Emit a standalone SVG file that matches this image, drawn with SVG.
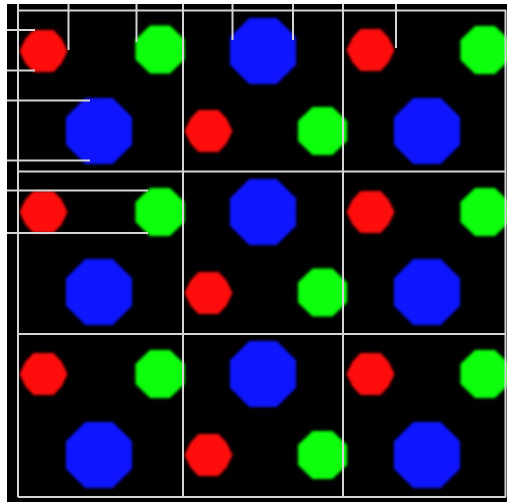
<svg xmlns="http://www.w3.org/2000/svg" width="507" height="504" viewBox="0 0 507 504">
  <style>
    .ln { stroke: #d4d4d4; stroke-width: 2; fill: none; }
    .red { fill: #ff0a0a; }
    .grn { fill: #0cff0c; }
    .blu { fill: #0a14ff; }
  </style>
  <defs>
    <filter id="soft" x="-20%" y="-20%" width="140%" height="140%">
      <feGaussianBlur stdDeviation="1.6"/>
    </filter>
    <polygon id="redHex" points="-24,0 -18,-12.5 -10,-21 10,-21 18,-12.5 24,0 18,12.5 10,21 -10,21 -18,12.5"/>
    <polygon id="grnOct" points="24.5,9.9 9.9,24 -9.9,24 -24.5,9.9 -24.5,-9.9 -9.9,-24 9.9,-24 24.5,-9.9"/>
    <polygon id="bluOct" points="33,13.7 13.7,33 -13.7,33 -33,13.7 -33,-13.7 -13.7,-33 13.7,-33 33,-13.7"/>
  </defs>
  <rect x="0" y="0" width="507" height="504" fill="#ffffff"/>
  <rect x="7" y="4" width="500" height="498" fill="#000000"/>

  <g id="shapes" filter="url(#soft)">
    <g id="rowA">
      <use id="r1" href="#redHex" class="red" x="43.5" y="51"/>
      <use id="g1" href="#grnOct" class="grn" x="160" y="49.5"/>
      <use id="b1" href="#bluOct" class="blu" x="263" y="51"/>
      <use id="r2" href="#redHex" class="red" x="370.5" y="50"/>
      <use id="g2" href="#grnOct" class="grn" x="485" y="50"/>
    </g>
    <g id="rowB">
      <use id="b2" href="#bluOct" class="blu" x="99" y="131"/>
      <use id="r3" href="#redHex" class="red" x="208.5" y="131"/>
      <use id="g3" href="#grnOct" class="grn" x="322.5" y="131"/>
      <use id="b3" href="#bluOct" class="blu" x="427" y="131"/>
    </g>
    <g id="rowC">
      <use id="r4" href="#redHex" class="red" x="43.5" y="212"/>
      <use id="g4" href="#grnOct" class="grn" x="160" y="212"/>
      <use id="b4" href="#bluOct" class="blu" x="263" y="212"/>
      <use id="r5" href="#redHex" class="red" x="370.5" y="212"/>
      <use id="g5" href="#grnOct" class="grn" x="485" y="212"/>
    </g>
    <g id="rowD">
      <use id="b5" href="#bluOct" class="blu" x="99" y="292"/>
      <use id="r6" href="#redHex" class="red" x="208.5" y="293"/>
      <use id="g6" href="#grnOct" class="grn" x="322.5" y="292.5"/>
      <use id="b6" href="#bluOct" class="blu" x="427" y="292"/>
    </g>
    <g id="rowE">
      <use id="r7" href="#redHex" class="red" x="43.5" y="374"/>
      <use id="g7" href="#grnOct" class="grn" x="160" y="374"/>
      <use id="b7" href="#bluOct" class="blu" x="263" y="374"/>
      <use id="r8" href="#redHex" class="red" x="370.5" y="374"/>
      <use id="g8" href="#grnOct" class="grn" x="485" y="374"/>
    </g>
    <g id="rowF">
      <use id="b8" href="#bluOct" class="blu" x="99" y="455"/>
      <use id="r9" href="#redHex" class="red" x="208.5" y="455"/>
      <use id="g9" href="#grnOct" class="grn" x="322.5" y="455"/>
      <use id="b9" href="#bluOct" class="blu" x="427" y="455"/>
    </g>
  </g>

  <g id="grid" class="ln">
    <line x1="18" y1="4" x2="18" y2="497"/>
    <line x1="183" y1="4" x2="183" y2="497"/>
    <line x1="343" y1="4" x2="343" y2="497"/>
    <line x1="505.5" y1="10" x2="505.5" y2="497"/>
    <line x1="18" y1="10.5" x2="506" y2="10.5"/>
    <line x1="18" y1="171.5" x2="506" y2="171.5"/>
    <line x1="18" y1="334" x2="506" y2="334"/>
    <line x1="18" y1="497" x2="506" y2="497"/>
  </g>

  <g id="connectors" class="ln">
    <line x1="7" y1="30" x2="35" y2="30"/>
    <line x1="7" y1="70.5" x2="35" y2="70.5"/>
    <line x1="68.5" y1="4" x2="68.5" y2="50"/>
    <line x1="136.5" y1="4" x2="136.5" y2="42"/>
    <line x1="232.5" y1="4" x2="232.5" y2="40"/>
    <line x1="293" y1="4" x2="293" y2="40"/>
    <line x1="396" y1="4" x2="396" y2="48"/>
    <line x1="7" y1="100.5" x2="90" y2="100.5"/>
    <line x1="7" y1="160.5" x2="90" y2="160.5"/>
    <line x1="7" y1="190.5" x2="148" y2="190.5"/>
    <line x1="7" y1="233" x2="148" y2="233"/>
  </g>
</svg>
